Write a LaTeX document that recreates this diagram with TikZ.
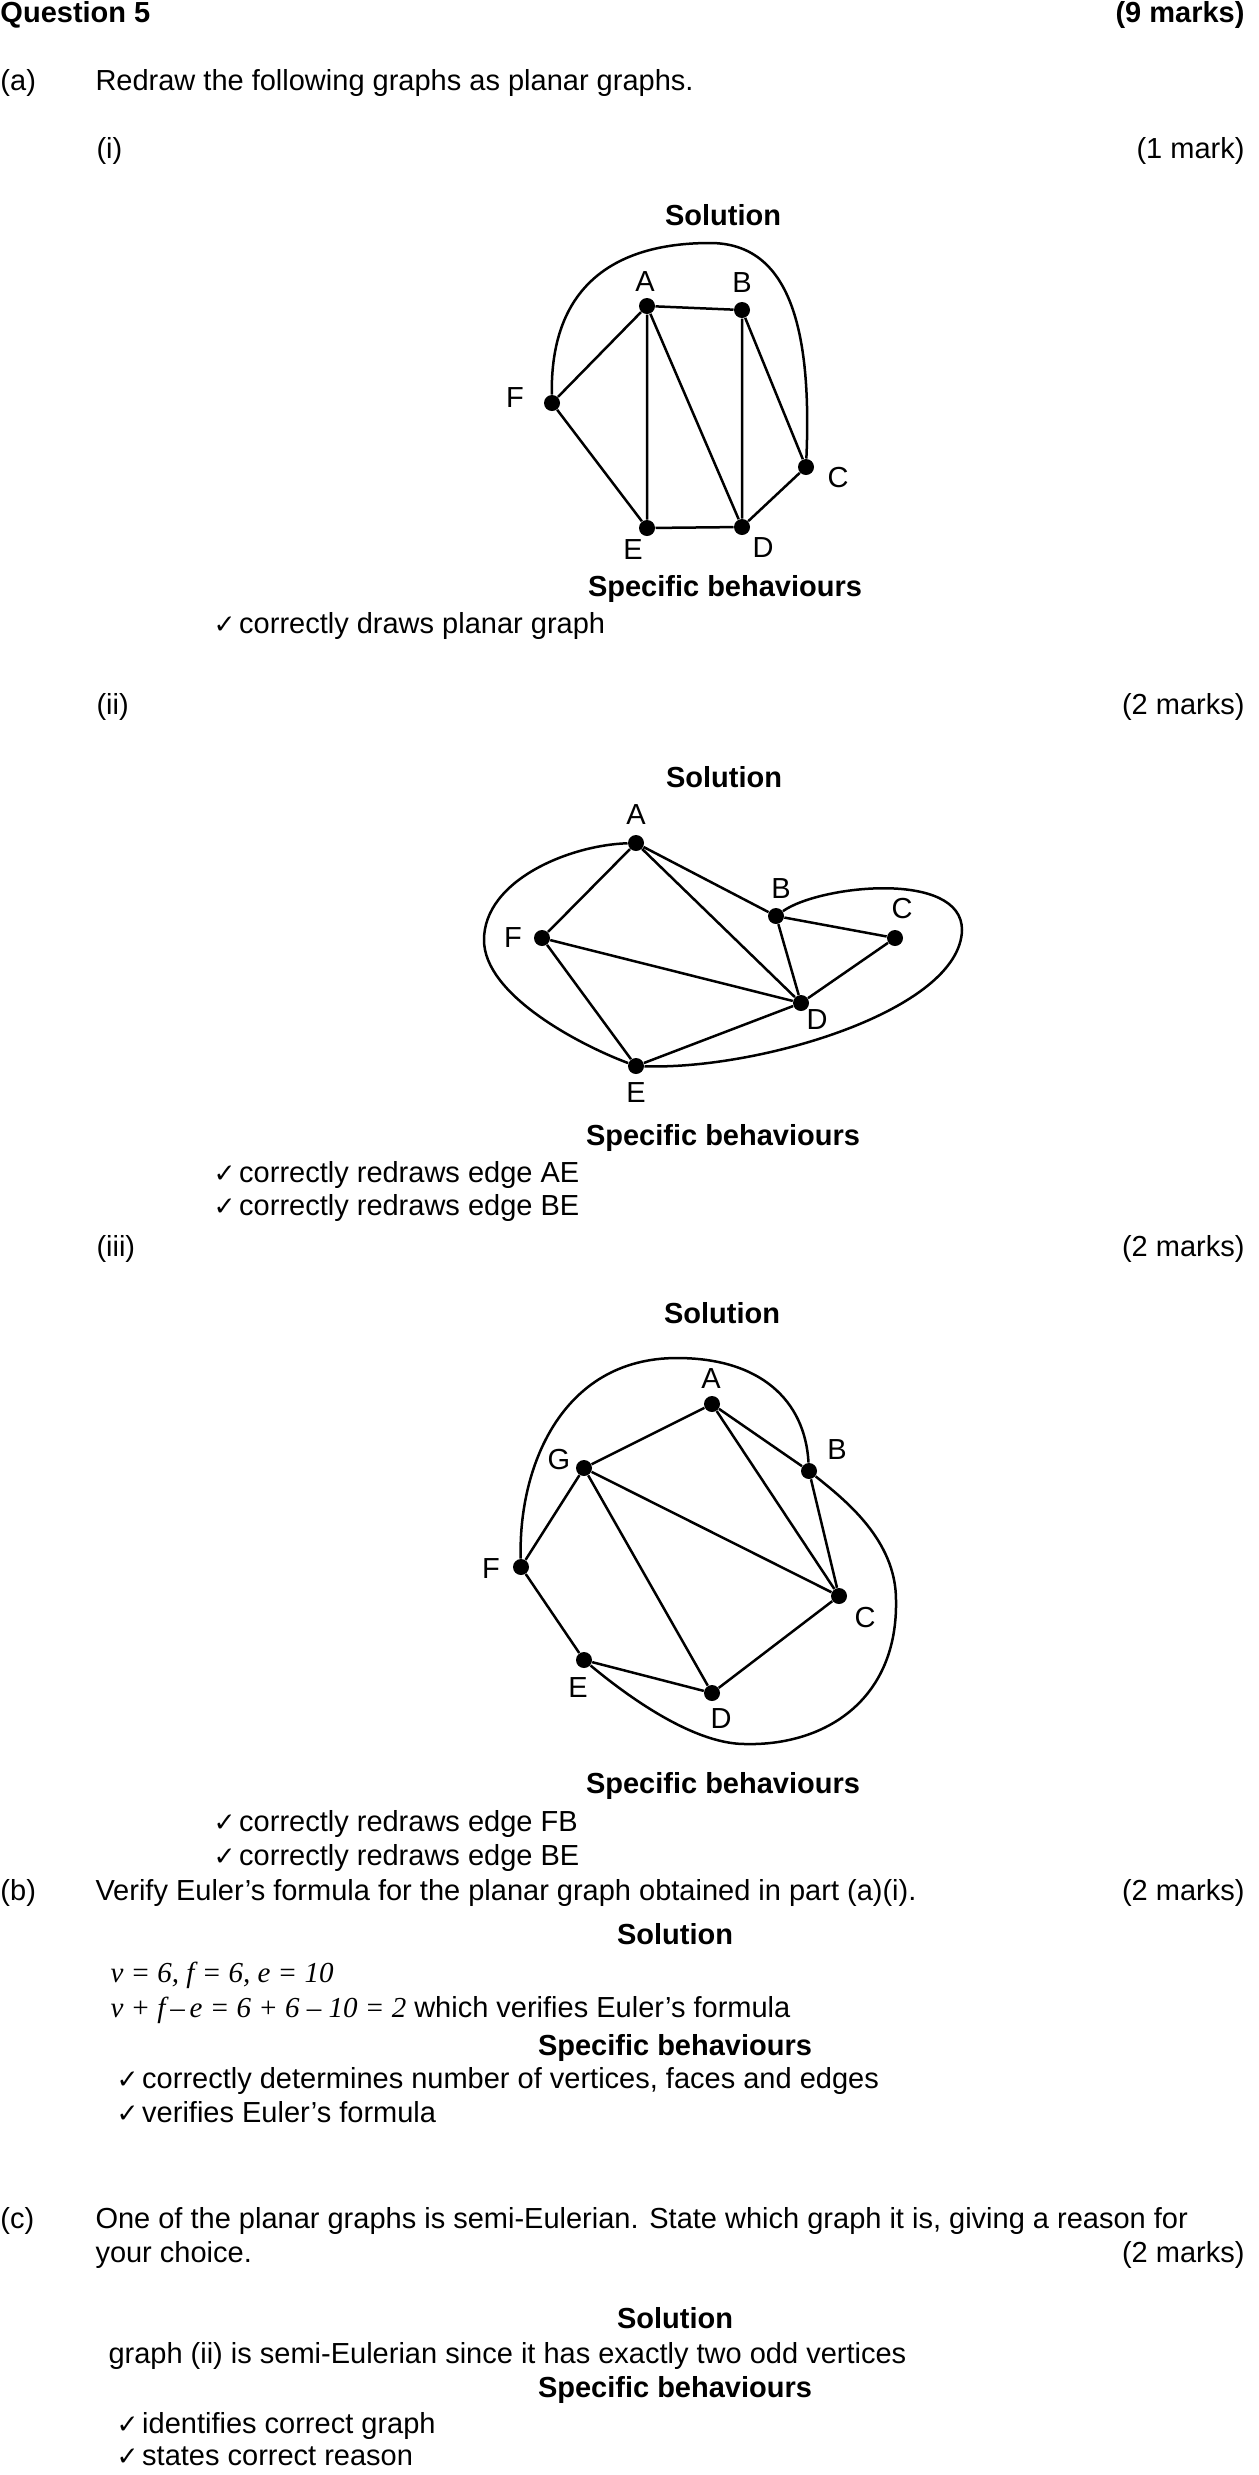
\documentclass[tikz,border=0pt]{standalone}
\usepackage{fontspec}
\setmainfont{Liberation Sans}
\newfontfamily\tnr{Liberation Serif}
\newfontfamily\symfont{DejaVu Sans}
\newcommand{\tick}{{\symfont\fontsize{10.5}{12}\selectfont ✓}\hspace{1.5pt}}

\begin{document}
\begin{tikzpicture}[x=0.4pt, y=-0.4pt,
  every node/.style={inner sep=0pt, font=\fontsize{11.6}{14}\selectfont},
  txt/.style={anchor=base west},
  rtxt/.style={anchor=base east},
  headtxt/.style={anchor=base, font=\fontsize{11.6}{14}\selectfont\bfseries},
  vtx/.style={circle, fill=black, minimum size=6.4pt},
  lbl/.style={anchor=center},
  ln/.style={line width=1pt}
]
  \useasboundingbox (0,0) rectangle (1259,2475);

  % header and part (a)
  \node[txt, font=\fontsize{11.6}{14}\selectfont\bfseries] (q5) at (0,22) {Question 5};
  \node[rtxt, font=\fontsize{11.6}{14}\selectfont\bfseries] (q5m) at (1245,22) {(9 marks)};
  \node[txt] (pa) at (0,90) {(a)};
  \node[txt] (pat) at (95,90) {Redraw the following graphs as planar graphs.};

  % (i)
  \node[txt] (pi) at (96,158) {(i)};
  \node[rtxt] (pim) at (1245,158) {(1 mark)};
  \node[headtxt] (sol1) at (723,225) {Solution};

  \node[vtx] (A1) at (647,306) {};
  \node[vtx] (B1) at (742,310) {};
  \node[vtx] (F1) at (552,403) {};
  \node[vtx] (C1) at (806,467) {};
  \node[vtx] (E1) at (647,528) {};
  \node[vtx] (D1) at (742,527) {};
  \node[lbl] (lA1) at (645,282) {A};
  \node[lbl] (lB1) at (742,283) {B};
  \node[lbl] (lF1) at (515,398) {F};
  \node[lbl] (lC1) at (838,478) {C};
  \node[lbl] (lE1) at (633,550) {E};
  \node[lbl] (lD1) at (763,548) {D};
  \draw[ln] (A1) -- (B1) (A1) -- (F1) (A1) -- (E1) (A1) -- (D1) (B1) -- (D1)
            (B1) -- (C1) (F1) -- (E1) (E1) -- (D1) (D1) -- (C1);
  \coordinate (t1) at (710,243);
  \draw[ln] (F1) .. controls (550,290) and (610,243) .. (t1)
                 .. controls (790,243) and (812,330) .. (C1);

  \node[headtxt] (sb1) at (725,596) {Specific behaviours};
  \node[txt] (ck1) at (213,633) {\tick correctly draws planar graph};

  % (ii)
  \node[txt] (pii) at (96,714) {(ii)};
  \node[rtxt] (piim) at (1245,714) {(2 marks)};
  \node[headtxt] (sol2) at (724,787) {Solution};

  \node[vtx] (A2) at (636,843) {};
  \node[vtx] (B2) at (776,916) {};
  \node[vtx] (C2) at (895,938) {};
  \node[vtx] (F2) at (542,938) {};
  \node[vtx] (D2) at (801,1003) {};
  \node[vtx] (E2) at (636,1066) {};
  \node[lbl] (lA2) at (636,815) {A};
  \node[lbl] (lB2) at (781,889) {B};
  \node[lbl] (lC2) at (902,908) {C};
  \node[lbl] (lF2) at (513,938) {F};
  \node[lbl] (lD2) at (817,1020) {D};
  \node[lbl] (lE2) at (636,1093) {E};
  \draw[ln] (A2) -- (F2) (A2) -- (D2) (A2) -- (B2) (B2) -- (C2) (B2) -- (D2)
            (F2) -- (D2) (F2) -- (E2) (E2) -- (D2) (D2) -- (C2);
  \coordinate (l2) at (484,940);
  \coordinate (r2) at (962,930);
  \draw[ln] (A2) .. controls (570,845) and (484,880) .. (l2)
                 .. controls (484,995) and (580,1045) .. (E2);
  \draw[ln] (B2) .. controls (820,885) and (962,870) .. (r2)
                 .. controls (960,1010) and (760,1070) .. (E2);

  \node[headtxt] (sb2) at (723,1145) {Specific behaviours};
  \node[txt] (ck2a) at (213,1182) {\tick correctly redraws edge AE};
  \node[txt] (ck2b) at (213,1215) {\tick correctly redraws edge BE};

  % (iii)
  \node[txt] (piii) at (96,1256) {(iii)};
  \node[rtxt] (piiim) at (1245,1256) {(2 marks)};
  \node[headtxt] (sol3) at (722,1323) {Solution};

  \node[vtx] (A3) at (712,1404) {};
  \node[vtx] (B3) at (809,1471) {};
  \node[vtx] (G3) at (584,1468) {};
  \node[vtx] (F3) at (521,1567) {};
  \node[vtx] (C3) at (839,1596) {};
  \node[vtx] (E3) at (584,1660) {};
  \node[vtx] (D3) at (712,1693) {};
  \node[lbl] (lA3) at (711,1379) {A};
  \node[lbl] (lB3) at (837,1449) {B};
  \node[lbl] (lG3) at (559,1459) {G};
  \node[lbl] (lF3) at (491,1568) {F};
  \node[lbl] (lC3) at (865,1617) {C};
  \node[lbl] (lE3) at (578,1687) {E};
  \node[lbl] (lD3) at (721,1718) {D};
  \draw[ln] (A3) -- (G3) (A3) -- (C3) (A3) -- (B3) (B3) -- (C3) (G3) -- (C3)
            (G3) -- (F3) (G3) -- (D3) (F3) -- (E3) (E3) -- (D3) (D3) -- (C3);
  \coordinate (t3) at (677,1358);
  \coordinate (r3) at (896,1600);
  \coordinate (b3) at (745,1744);
  \draw[ln] (F3) .. controls (518,1470) and (560,1358) .. (t3)
                 .. controls (760,1358) and (805,1400) .. (B3);
  \draw[ln] (B3) .. controls (845,1500) and (896,1540) .. (r3)
                 .. controls (898,1700) and (825,1746) .. (b3)
                 .. controls (690,1744) and (620,1690) .. (E3);

  \node[headtxt] (sb3) at (723,1793) {Specific behaviours};
  \node[txt] (ck3a) at (213,1831) {\tick correctly redraws edge FB};
  \node[txt] (ck3b) at (213,1865) {\tick correctly redraws edge BE};

  % part (b)
  \node[txt] (pb) at (0,1900) {(b)};
  \node[txt] (pbt) at (95,1900) {Verify Euler’s formula for the planar graph obtained in part (a)(i).};
  \node[rtxt] (pbm) at (1245,1900) {(2 marks)};
  \node[headtxt] (sol4) at (675,1944) {Solution};
  \node[txt] (eq1) at (110,1982) {\tnr\itshape v = 6, f = 6, e = 10};
  \node[txt] (eq2) at (110,2017) {{\tnr\itshape v + f\,–\,e = 6 + 6 – 10 = 2} which verifies Euler’s formula};
  \node[headtxt] (sb4) at (675,2055) {Specific behaviours};
  \node[txt] (ck4a) at (116,2088) {\tick correctly determines number of vertices, faces and edges};
  \node[txt] (ck4b) at (116,2122) {\tick verifies Euler’s formula};

  % part (c)
  \node[txt] (pc) at (0,2228) {(c)};
  \node[txt] (pct) at (95,2228) {One of the planar graphs is semi-Eulerian. State which graph it is, giving a reason for};
  \node[txt] (pct2) at (95,2262) {your choice.};
  \node[rtxt] (pcm) at (1245,2262) {(2 marks)};
  \node[headtxt] (sol5) at (675,2328) {Solution};
  \node[txt] (ans) at (108,2363) {graph (ii) is semi-Eulerian since it has exactly two odd vertices};
  \node[headtxt] (sb5) at (675,2397) {Specific behaviours};
  \node[txt] (ck5a) at (116,2433) {\tick identifies correct graph};
  \node[txt] (ck5b) at (116,2465) {\tick states correct reason};
\end{tikzpicture}
\end{document}
